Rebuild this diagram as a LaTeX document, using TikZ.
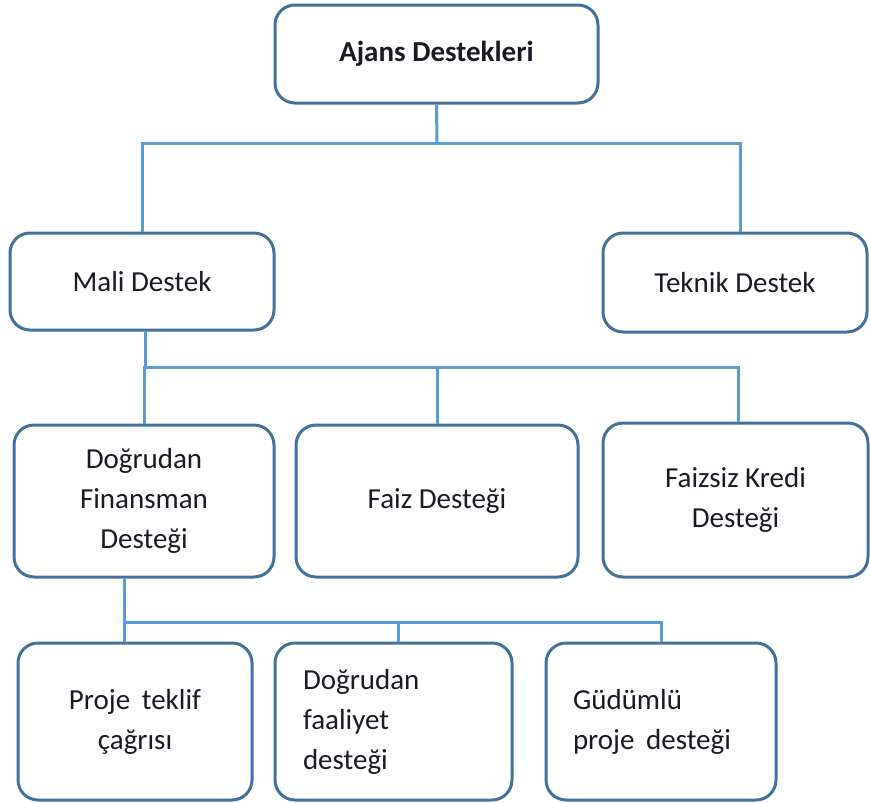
\documentclass[tikz,border=0pt]{standalone}
\usepackage{fontspec}
\setmainfont{Carlito}
\definecolor{boxblue}{HTML}{41719C}
\definecolor{lineblue}{HTML}{5B9BD5}
\definecolor{txt}{HTML}{1A1A24}
\begin{document}
\begin{tikzpicture}[x=1pt,y=-1pt,
  box/.style={draw=boxblue,line width=3pt,rounded corners=20pt,fill=white,
    inner sep=0pt,text=txt,align=center,
    font=\fontsize{29}{40}\selectfont},
  conn/.style={draw=lineblue,line width=3pt}]
\useasboundingbox (0,0) rectangle (870,803);
\coordinate (b1) at (437,143);
\coordinate (b2) at (437,367);
\coordinate (b3) at (124,622);
% boxes
\node[box,minimum width=323pt,minimum height=98pt,font=\fontsize{29}{40}\selectfont\bfseries] (ajans) at (436.5,54) {Ajans Destekleri};
\node[box,minimum width=264pt,minimum height=97pt] (mali) at (142,281.5) {Mali Destek};
\node[box,minimum width=264pt,minimum height=99pt] (teknik) at (735,282.5) {Teknik Destek};
\node[box,minimum width=260pt,minimum height=152pt] (dfin) at (144,501) {Doğrudan\\Finansman\\Desteği};
\node[box,minimum width=282pt,minimum height=152pt] (faiz) at (437,501) {Faiz Desteği};
\node[box,minimum width=265pt,minimum height=154pt] (faizsiz) at (735.5,500) {Faizsiz Kredi\\Desteği};
\node[box,minimum width=234pt,minimum height=157pt] (proje) at (135,721.5) {Proje\hspace{0.4em}teklif\\çağrısı};
\node[box,minimum width=237pt,minimum height=157pt,text width=181pt,align=left] (dfaal) at (393.5,721.5) {Doğrudan\\faaliyet\\desteği};
\node[box,minimum width=230pt,minimum height=157pt,text width=176pt,align=left] (gud) at (661,721.5) {Güdümlü\\proje\hspace{0.4em}desteği};
% connectors
\draw[conn] (ajans.south) -- (b1);
\draw[conn] (mali.north) |- (b1) -| ([xshift=5pt]teknik.north);
\draw[conn] ([xshift=3pt]mali.south) -- ([xshift=3pt]mali.south |- b2);
\draw[conn] (dfin.north) |- (b2) -| ([xshift=3pt]faizsiz.north);
\draw[conn] (faiz.north) -- (faiz.north |- b2);
\draw[conn] ([xshift=-20pt]dfin.south) -- ([xshift=-11pt]proje.north);
\draw[conn] (b3) -| (gud.north);
\draw[conn] ([xshift=4.5pt]dfaal.north) -- ([xshift=4.5pt]dfaal.north |- b3);
\end{tikzpicture}
\end{document}
